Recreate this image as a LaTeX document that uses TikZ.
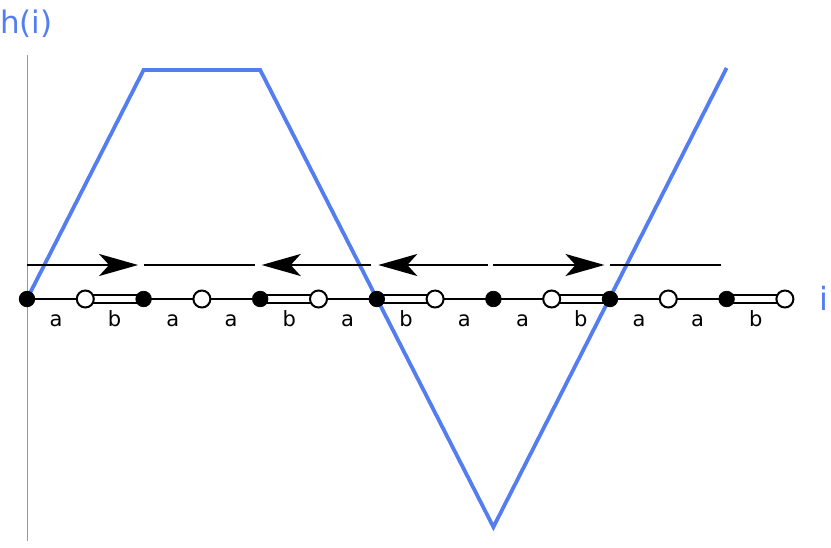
\documentclass[tikz,border=0pt]{standalone}
\usepackage{fontspec}
\setmainfont{DejaVu Sans}
\usetikzlibrary{arrows.meta,calc}
\definecolor{hblue}{RGB}{84,126,240}
\begin{document}
\begin{tikzpicture}[x=1pt,y=-1pt,
  fdot/.style={circle,fill=black,draw=black,line width=0.8pt,minimum size=15.5pt,inner sep=0pt},
  odot/.style={circle,fill=white,draw=black,line width=2pt,minimum size=17pt,inner sep=0pt},
  segA/.style={line width=2.4pt},
  segB/.style={line width=2.2pt,double=white,double distance=6pt},
  flow/.style={line width=2.4pt},
  arr/.style={flow,-{Stealth[length=39pt,width=22pt,inset=10pt]}},
  lbl/.style={font=\fontsize{21}{25}\selectfont,anchor=base,inner sep=0pt},
  curve/.style={hblue,line width=3.8pt,line join=miter},
  axis/.style={hblue!80,line width=0.9pt}]
\useasboundingbox (0,0) rectangle (831,547);
% vertical axis
\coordinate (ytop) at (27,55);
\coordinate (ybot) at (27,541);
\draw[axis] (ytop) -- (ybot);
% positions
\foreach \k in {0,...,13} {\coordinate (c\k) at ({27+58.3*\k},299);}
% blue curve h(i)
\coordinate (t2) at ($(c2)+(0,-229)$);
\coordinate (t4) at ($(c4)+(0,-229)$);
\coordinate (b8) at ($(c8)+(0,228)$);
\coordinate (t12) at ($(c12)+(0,-231)$);
\draw[curve] (c0) -- (t2) -- (t4) -- (b8) -- (t12);
% flow arrows
\foreach \k/\n in {0/2,2/4,4/6,6/8,8/10,10/12} {
  \coordinate (s\k) at ($(c\k)+(0,-34)$);
  \coordinate (e\k) at ($(c\n)+(-5.5,-34)$);
}
\foreach \k/\n in {4/6,6/8} {
  \coordinate (s\k) at ($(c\n)+(-5.5,-34)$);
  \coordinate (e\k) at ($(c\k)+(1.5,-34)$);
}
\draw[arr] (s0) -- (e0);
\draw[flow] (s2) -- (e2);
\draw[arr] (s4) -- (e4);
\draw[arr] (s6) -- (e6);
\draw[arr] (s8) -- (e8);
\draw[flow] (s10) -- (e10);
% segments
\foreach \a/\b/\t/\s in {0/1/a/segA,1/2/b/segB,2/3/a/segA,3/4/a/segA,4/5/b/segB,5/6/a/segA,6/7/b/segB,7/8/a/segA,8/9/a/segA,9/10/b/segB,10/11/a/segA,11/12/a/segA,12/13/b/segB} {
  \draw[\s] (c\a) -- (c\b);
  \node[lbl] (l\a) at ($(c\a)!0.5!(c\b)+(0,27)$) {\t};
}
% chain nodes
\foreach \k in {0,2,...,12} {\node[fdot] (p\k) at (c\k) {};}
\foreach \k in {1,3,...,13} {\node[odot] (p\k) at (c\k) {};}
% axis labels
\node[hblue,font=\fontsize{31}{36}\selectfont,anchor=base west,inner sep=0pt] (hlab) at (0,33) {h(i)};
\node[hblue,font=\fontsize{32}{38}\selectfont,anchor=base,inner sep=0pt] (ilab) at (824,310) {i};
\end{tikzpicture}
\end{document}
